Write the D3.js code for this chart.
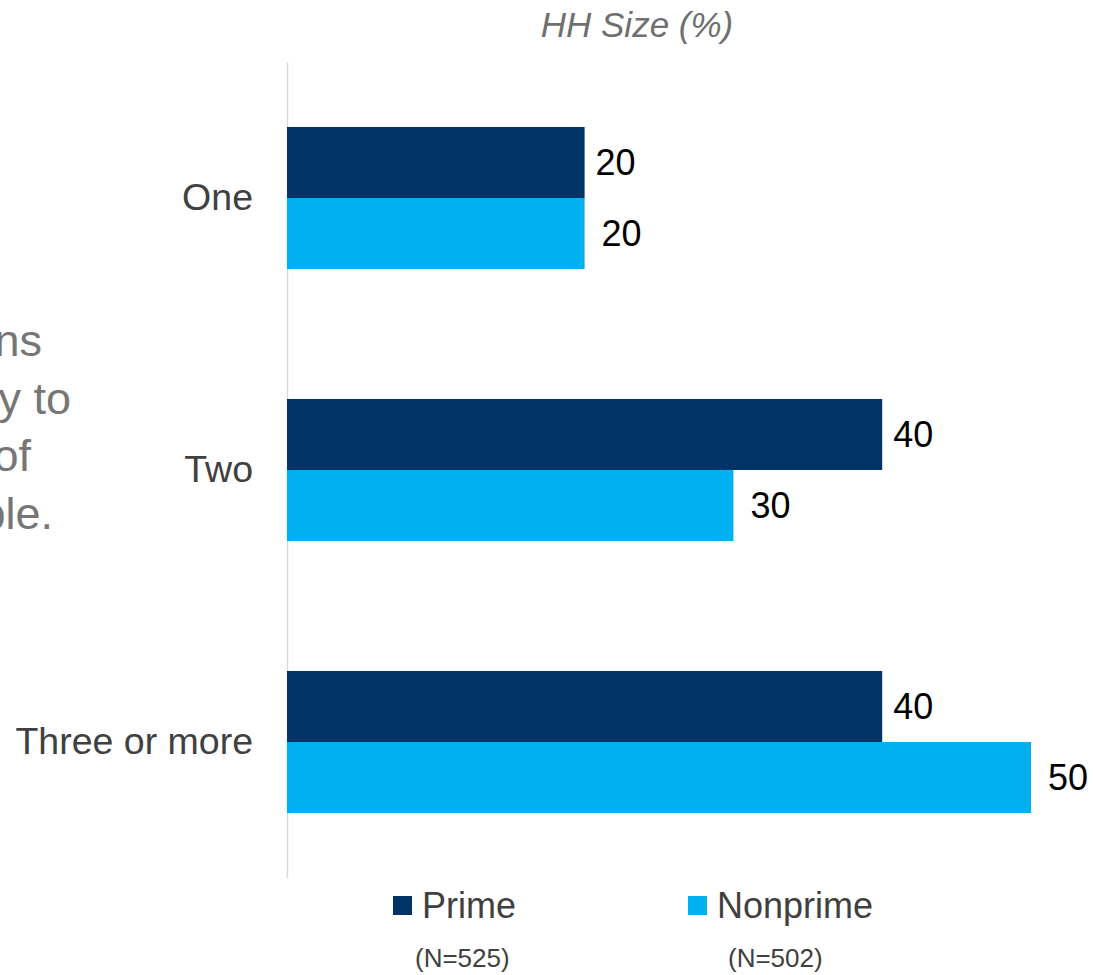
<!DOCTYPE html>
<html>
<head>
<meta charset="utf-8">
<script src="https://cdn.jsdelivr.net/npm/d3@7"></script>
<style>
  html, body { margin: 0; padding: 0; background: #ffffff; }
  svg { display: block; font-family: "Liberation Sans", Arial, sans-serif; }
</style>
</head>
<body>
<svg id="chart" width="1093" height="975"></svg>
<script>
// Household size by borrower segment
const categories = ["One", "Two", "Three or more"];
const seriesNames = ["Prime", "Nonprime"];
const sampleSizes = ["(N=525)", "(N=502)"];
const primeValues = [20, 40, 40];
const nonprimeValues = [20, 30, 50];
const chartTitle = "HH Size (%)";
// Tail of a side note that runs in from the slide's left edge
const sideNoteLines = ["ns", "y to", "of", "ple."];

const colors = { Prime: "#003366", Nonprime: "#00b0f0" };
const fontFamily = "'Liberation Sans', Arial, sans-serif";

const svg = d3.select("#chart");

const x = d3.scaleLinear().domain([0, 50]).range([287, 1031]);
const y = d3.scaleBand().domain(categories).range([62, 878])
  .paddingInner(0.478).paddingOuter(0.239);
const ySub = d3.scaleBand().domain(seriesNames).range([0, y.bandwidth()]);

// Side note fragments (clipped by the left edge)
const noteEnds = [42, 71, 31, 53];
svg.append("g").selectAll("text")
  .data(sideNoteLines)
  .join("text")
  .attr("x", (d, i) => noteEnds[i])
  .attr("y", (d, i) => 356 + i * 57.5)
  .attr("text-anchor", "end")
  .attr("font-size", 45)
  .attr("fill", "#767676")
  .text(d => d);

// Title
svg.append("text")
  .attr("x", 637)
  .attr("y", 37)
  .attr("text-anchor", "middle")
  .attr("font-size", 35)
  .attr("font-style", "italic")
  .attr("fill", "#6f6f6f")
  .text(chartTitle);

// Vertical category axis
const yAxis = svg.append("g")
  .attr("transform", `translate(${x(0)},0)`)
  .call(d3.axisLeft(y).tickSize(0).tickPadding(34));
yAxis.attr("font-family", fontFamily);
yAxis.select(".domain").attr("stroke", "#d9d9d9").attr("stroke-width", 1.5);
yAxis.selectAll("text")
  .attr("font-size", 37.5)
  .attr("fill", "#404040");

// Bars
const rows = categories.map((c, i) => ({
  category: c,
  values: [
    { series: "Prime", value: primeValues[i] },
    { series: "Nonprime", value: nonprimeValues[i] }
  ]
}));

const groups = svg.append("g").selectAll("g")
  .data(rows)
  .join("g")
  .attr("transform", d => `translate(0,${y(d.category)})`);

groups.selectAll("rect")
  .data(d => d.values)
  .join("rect")
  .attr("x", x(0))
  .attr("y", d => ySub(d.series))
  .attr("width", d => x(d.value) - x(0))
  .attr("height", ySub.bandwidth())
  .attr("fill", d => colors[d.series]);

const labelGap = { Prime: 11, Nonprime: 17 };
groups.selectAll("text")
  .data(d => d.values)
  .join("text")
  .attr("x", d => x(d.value) + labelGap[d.series])
  .attr("y", d => ySub(d.series) + ySub.bandwidth() / 2)
  .attr("dy", "0.36em")
  .attr("font-size", 36)
  .attr("fill", "#000000")
  .text(d => d.value);

// Legend
const legendX = [393, 688];
const legend = svg.append("g").selectAll("g")
  .data(seriesNames)
  .join("g")
  .attr("transform", (d, i) => `translate(${legendX[i]},0)`);

legend.append("rect")
  .attr("x", 0)
  .attr("y", 896)
  .attr("width", 19)
  .attr("height", 19)
  .attr("fill", d => colors[d]);

legend.append("text")
  .attr("x", 29)
  .attr("y", 918)
  .attr("font-size", 36)
  .attr("fill", "#404040")
  .text(d => d);

legend.append("text")
  .attr("x", (d, i) => 22 + i * 18)
  .attr("y", 967)
  .attr("font-size", 26)
  .attr("fill", "#404040")
  .text((d, i) => sampleSizes[i]);
</script>
</body>
</html>
